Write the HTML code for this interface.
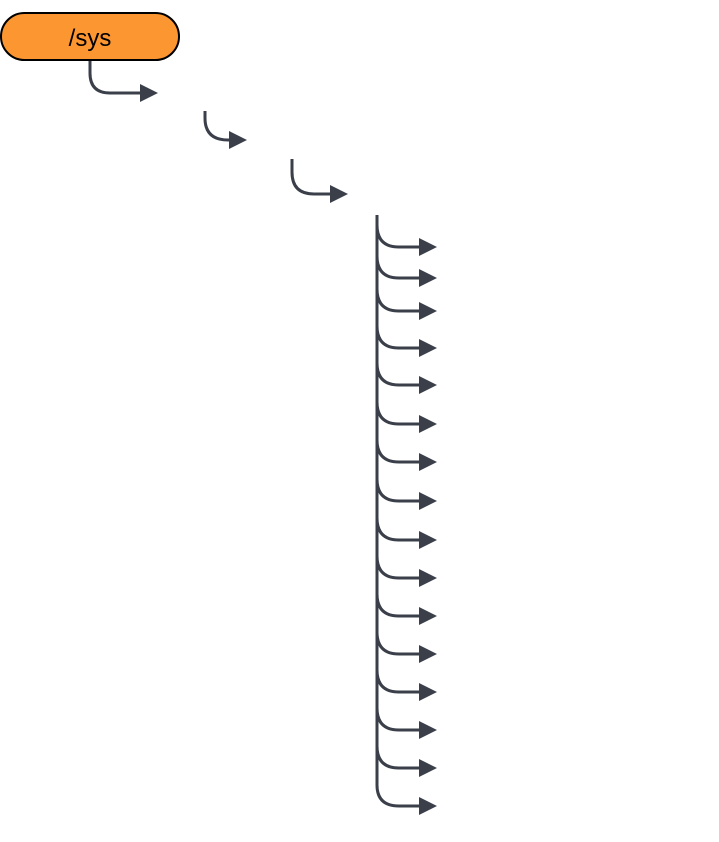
<!DOCTYPE html>
<html><head><meta charset="utf-8"><style>
html,body{margin:0;padding:0;background:#fff;width:719px;height:842px;overflow:hidden}
</style></head><body>
<svg width="719" height="842" viewBox="0 0 719 842" xmlns="http://www.w3.org/2000/svg">
<rect x="1" y="13" width="178" height="47" rx="23.5" fill="#fb9631" stroke="#000" stroke-width="2"/>
<text x="90" y="46" font-family="Liberation Sans, sans-serif" font-size="24" text-anchor="middle" fill="#000">/sys</text>
<g fill="none" stroke="#3a3f4a" stroke-width="3">
<path d="M90 61 V73 Q90 93 110 93 H142"/>
<path d="M205 111 V118 Q205 140 228 140 H231"/>
<path d="M292 159 V172 Q292 194 314 194 H332"/>
<path d="M377 215 V785 Q377 806 399 806 H421"/>
<path d="M377 225 Q377 247 399 247 H421"/>
<path d="M377 256 Q377 278 399 278 H421"/>
<path d="M377 289 Q377 311 399 311 H421"/>
<path d="M377 326 Q377 348 399 348 H421"/>
<path d="M377 363 Q377 385 399 385 H421"/>
<path d="M377 402 Q377 424 399 424 H421"/>
<path d="M377 440 Q377 462 399 462 H421"/>
<path d="M377 479 Q377 501 399 501 H421"/>
<path d="M377 518 Q377 540 399 540 H421"/>
<path d="M377 556 Q377 578 399 578 H421"/>
<path d="M377 594 Q377 616 399 616 H421"/>
<path d="M377 632 Q377 654 399 654 H421"/>
<path d="M377 670 Q377 692 399 692 H421"/>
<path d="M377 708 Q377 730 399 730 H421"/>
<path d="M377 746 Q377 768 399 768 H421"/>
</g>
<g fill="#3a3f4a">
<polygon points="140,84 158,93 140,102"/>
<polygon points="229,131 247,140 229,149"/>
<polygon points="330,185 348,194 330,203"/>
<polygon points="419,238 437,247 419,256"/>
<polygon points="419,269 437,278 419,287"/>
<polygon points="419,302 437,311 419,320"/>
<polygon points="419,339 437,348 419,357"/>
<polygon points="419,376 437,385 419,394"/>
<polygon points="419,415 437,424 419,433"/>
<polygon points="419,453 437,462 419,471"/>
<polygon points="419,492 437,501 419,510"/>
<polygon points="419,531 437,540 419,549"/>
<polygon points="419,569 437,578 419,587"/>
<polygon points="419,607 437,616 419,625"/>
<polygon points="419,645 437,654 419,663"/>
<polygon points="419,683 437,692 419,701"/>
<polygon points="419,721 437,730 419,739"/>
<polygon points="419,759 437,768 419,777"/>
<polygon points="419,797 437,806 419,815"/>
</g>
</svg>
</body></html>
